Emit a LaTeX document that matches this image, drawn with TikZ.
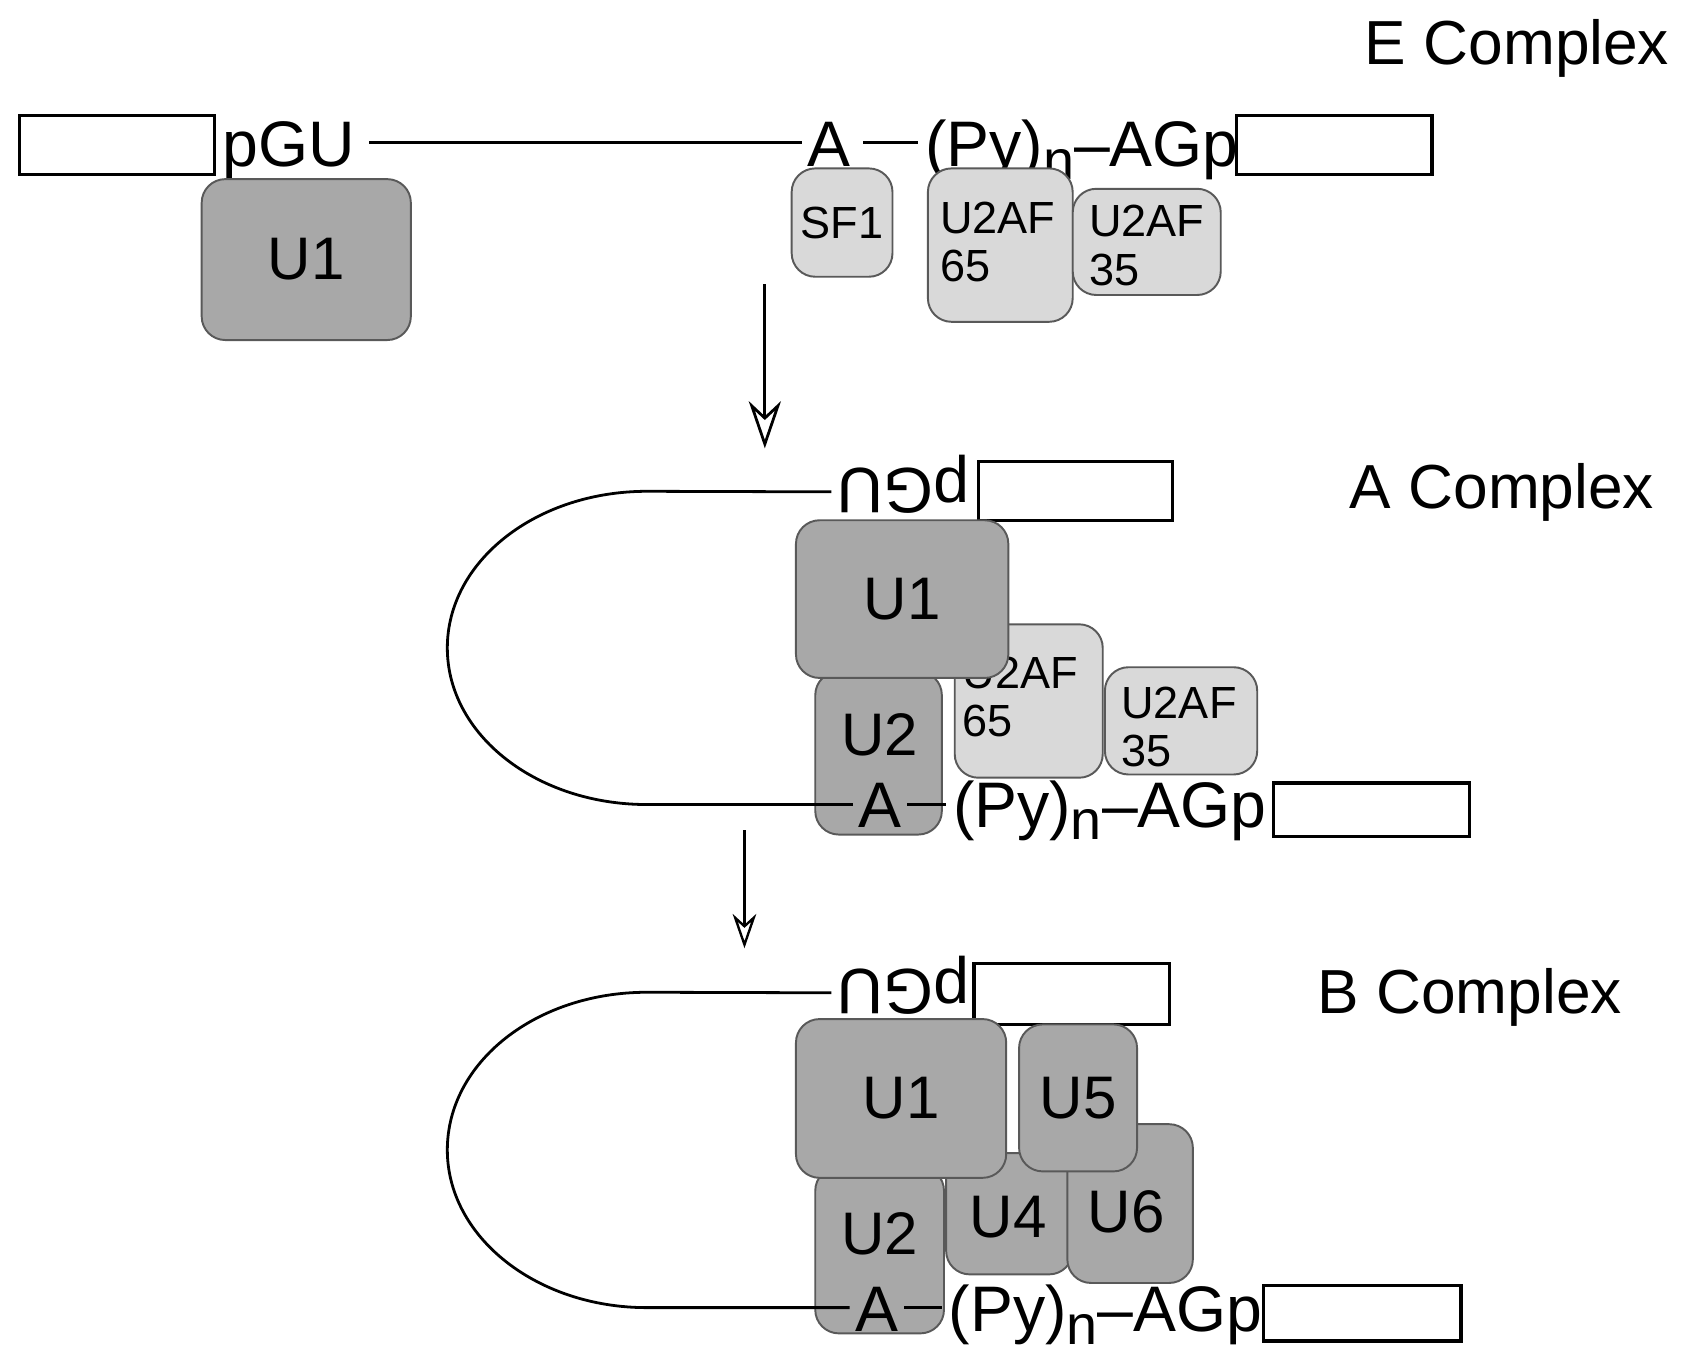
\documentclass[tikz,border=0pt]{standalone}
\usepackage{fontspec}
\setmainfont{Liberation Sans}
\usetikzlibrary{arrows.meta,fit}

\begin{document}
\begin{tikzpicture}[x=0.5pt,y=-0.5pt,
  exon/.style={draw=black, line width=1.5pt, fill=white, inner sep=0pt},
  snrnp/.style={draw=black!65, line width=0.9pt, fill=black!34, rounded corners=11pt, inner sep=0pt},
  factor/.style={draw=black!65, line width=0.9pt, fill=black!15, rounded corners=11pt, inner sep=0pt},
  seq/.style={inner sep=0pt, font=\fontsize{30}{30}\selectfont},
  lbl/.style={inner sep=0pt, font=\fontsize{28}{28}\selectfont},
  small/.style={inner sep=0pt, font=\fontsize{21}{22.5}\selectfont, align=left},
  title/.style={inner sep=0pt, font=\fontsize{29}{29}\selectfont},
  rna/.style={line width=1.3pt},
  step1/.style={line width=1.3pt, -{Stealth[open, fill=white, length=22pt, width=15pt, inset=7pt]}},
  step2/.style={line width=1.1pt, -{Stealth[open, fill=white, length=16pt, width=11pt, inset=5pt]}},
]
\fill[white] (0,0) rectangle (1568,1262);
\useasboundingbox (0,0) rectangle (1568,1262);

% ---------------- E complex ----------------
\node[title, anchor=base west] (labE) at (1272,60) {E Complex};

\node[exon, fit={(18,108) (200,163)}] (exE1) {};
\node[exon, fit={(1153,108) (1335,163)}] (exE2) {};

\node[seq, anchor=base west] (pguE) at (207,155) {pGU};
\node[seq, anchor=base west] (bpE) at (752,155) {A};
\node[seq, anchor=base west] (pptE) at (862,155) {(Py)\raisebox{-6pt}{\fontsize{26}{26}\selectfont n}–AGp};

\draw[rna] ([shift={(13,-22)}]pguE.base east) -- ([shift={(-4,-22)}]bpE.base west);
\draw[rna] ([shift={(12,-22)}]bpE.base east) -- ([shift={(-6,-22)}]pptE.base west);

\node[snrnp, fit={(188,167) (383,317)}] (U1E) {};
\node[lbl] (tU1E) at (U1E.center) {U1};
\node[factor, fit={(738,157) (832,258)}] (SF1) {};
\node[inner sep=0pt, font=\fontsize{21}{21}\selectfont] (tSF1) at (SF1.center) {SF1};
\node[factor, fit={(865,157) (1000,300)}] (U65E) {};
\node[small, anchor=north west] (t65E) at (876,188) {U2AF\\65};
\node[factor, fit={(1000,176) (1138,275)}] (U35E) {};
\node[small, anchor=north west] (t35E) at (1015,191) {U2AF\\35};

\coordinate (a1s) at (713,265);
\coordinate (a1e) at (713,418);
\draw[step1] (a1s) -- (a1e);

% ---------------- A complex ----------------
\node[title, anchor=base west] (labA) at (1258,474) {A Complex};

\node[exon, fit={(912,430) (1093,485)}] (exA1) {};
\node[exon, fit={(1187,730) (1370,780)}] (exA2) {};
\node[seq, rotate=180, anchor=base east] (pguA) at (780,436.5) {pGU};

\node[factor, fit={(1030,622) (1172,722)}] (U35A) {};
\node[small, anchor=north west] (t35A) at (1045,640) {U2AF\\35};
\node[factor, fit={(890,582) (1028,725)}] (U65A) {};
\node[small, anchor=north west] (t65A) at (897,612) {U2AF\\65};
\node[snrnp, fit={(760,626) (878,778)}] (U2A) {};
\node[lbl] (tU2A) at (820,685) {U2};
\node[snrnp, fit={(742,485) (940,632)}] (U1A) {};
\node[lbl] (tU1A) at (U1A.center) {U1};

\node[seq, anchor=base west] (bpA) at (800,771) {A};
\node[seq, anchor=base west] (pptA) at (888,771) {(Py)\raisebox{-6pt}{\fontsize{26}{26}\selectfont n}–AGp};

\draw[rna] ([shift={(-5,22)}]pguA.base east) -- (603,458)
  .. controls (500,458) and (417,523) .. (417,604)
  .. controls (417,685) and (500,750) .. (603,750)
  -- ([shift={(-5,-21)}]bpA.base west);
\draw[rna] ([shift={(5,-21)}]bpA.base east) -- ([shift={(-6,-21)}]pptA.base west);

\coordinate (a2s) at (694,774);
\coordinate (a2e) at (694,884);
\draw[step2] (a2s) -- (a2e);

% ---------------- B complex ----------------
\node[title, anchor=base west] (labB) at (1228,945) {B Complex};

\node[exon, fit={(908,898) (1090,955)}] (exB1) {};
\node[exon, fit={(1178,1198) (1362,1250)}] (exB2) {};
\node[seq, rotate=180, anchor=base east] (pguB) at (780,903.5) {pGU};

\node[snrnp, fit={(882,1075) (1000,1188)}] (U4) {};
\node[lbl] (tU4) at (940,1135) {U4};
\node[snrnp, fit={(995,1048) (1112,1196)}] (U6) {};
\node[lbl] (tU6) at (1050,1130) {U6};
\node[snrnp, fit={(950,955) (1060,1092)}] (U5) {};
\node[lbl] (tU5) at (U5.center) {U5};
\node[snrnp, fit={(760,1088) (880,1243)}] (U2B) {};
\node[lbl] (tU2B) at (820,1150) {U2};
\node[snrnp, fit={(742,950) (938,1098)}] (U1B) {};
\node[lbl] (tU1B) at (U1B.center) {U1};

\node[seq, anchor=base west] (bpB) at (797,1241) {A};
\node[seq, anchor=base west] (pptB) at (884,1241) {(Py)\raisebox{-6pt}{\fontsize{26}{26}\selectfont n}–AGp};

\draw[rna] ([shift={(-5,22)}]pguB.base east) -- (603,925)
  .. controls (500,925) and (417,990) .. (417,1072)
  .. controls (417,1153) and (500,1219) .. (603,1219)
  -- ([shift={(-5,-22)}]bpB.base west);
\draw[rna] ([shift={(5,-22)}]bpB.base east) -- ([shift={(-6,-22)}]pptB.base west);
\end{tikzpicture}
\end{document}
